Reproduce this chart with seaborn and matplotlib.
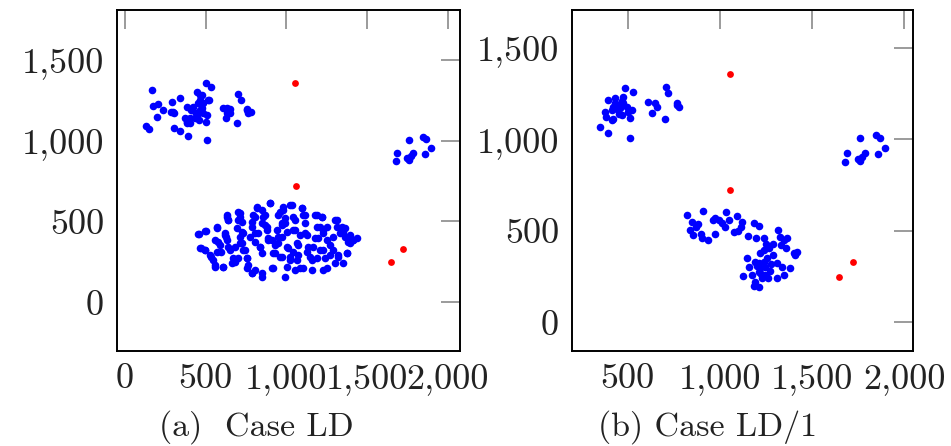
import pandas as pd
import matplotlib
matplotlib.use('Agg')
import matplotlib.pyplot as plt
import seaborn as sns
from matplotlib.ticker import FuncFormatter

# outliers (red), same in both cases
red_x = [1054, 1057, 1647, 1722]
red_y = [1356, 722, 248, 330]

# small cluster on the right, same in both cases
right_x = [1681, 1689, 1763, 1846, 1867, 1896, 1860, 1771, 1788, 1763, 1751]
right_y = [875, 923, 1005, 1026, 1009, 954, 918, 906, 923, 881, 892]

# (a) Case LD - upper left cluster
a_top_x = [165, 130, 151, 176, 207, 196, 234, 289, 283, 304, 341, 304, 341, 389, 372,
           382, 403, 407, 424, 444, 465, 455, 440, 434, 465, 475, 486, 502, 531, 523,
           511, 502, 461, 486, 511, 610, 630, 651, 626, 703, 717, 697, 754, 779, 765,
           300, 383, 414, 445, 465, 476, 517, 403, 383, 631, 651, 755]
a_top_y = [1315, 1094, 1071, 1218, 1228, 1145, 1191, 1242, 1176, 1170, 1267, 1077, 1063, 1032, 1139,
           1118, 1108, 1191, 1211, 1300, 1284, 1232, 1170, 1139, 1191, 1201, 1170, 1360, 1331, 1253,
           1160, 1118, 1129, 1232, 1005, 1201, 1170, 1195, 1139, 1288, 1253, 1108, 1195, 1180, 1170,
           1181, 1212, 1191, 1160, 1253, 1284, 1253, 1139, 1108, 1201, 1170, 1191]

# (a) Case LD - big lower cluster
a_low_x = [459, 500, 471, 496, 533, 558, 568, 579, 568, 595, 620, 624, 641, 630, 641,
           682, 692, 703, 713, 713, 723, 734, 744, 754, 754, 785, 796, 806, 806, 816,
           847, 847, 837, 847, 868, 878, 885, 899, 909, 920, 930, 940, 951, 971, 971,
           951, 806, 785, 661, 610, 703,
           982, 1023, 992, 971, 1044, 1085, 1095, 1116, 1054, 1002, 1044, 1064, 1002, 992,
           1054, 1106, 1126, 1168, 1188, 1219, 1209, 1230, 1250, 1271, 1292, 1312, 1343, 1354,
           1364, 1395, 1416, 1302, 1230, 1188, 1157, 1230, 1250, 1323, 1374, 1178, 1116, 1075,
           1023, 961, 1437,
           455, 496, 465, 496, 527, 548, 558, 610, 568, 558, 589, 620, 630, 630, 641,
           651, 672, 682, 703, 713, 723, 723, 713, 734, 754, 765, 785, 775, 785, 806,
           816, 827, 837, 847, 847, 858, 868, 878, 889, 899, 909, 920, 930, 951, 961,
           971, 982, 992, 1002, 1013, 1023, 1033, 1044, 1054, 1064, 1075, 1085, 1095, 1106,
           1116, 1126, 1137, 1147, 1157, 1178, 1188, 1199, 1209, 1219, 1230, 1240, 1250, 1271,
           1292, 1302, 1312, 1323, 1333, 1354, 1364, 1374, 1385, 1395, 1416]
a_low_y = [423, 443, 334, 323, 282, 231, 468, 375, 313, 313, 427, 406, 340, 540, 509,
           344, 458, 509, 551, 406, 365, 427, 324, 272, 210, 499, 540, 427, 375, 592,
           571, 489, 344, 179, 540, 468, 396, 612, 385, 210, 303, 447, 540, 489, 282,
           365, 200, 179, 241, 220, 272,
           571, 602, 489, 406, 447, 416, 581, 540, 509, 344, 313, 262, 220, 158,
           200, 210, 313, 344, 540, 530, 468, 427, 385, 293, 323, 509, 468, 437,
           406, 365, 385, 241, 200, 272, 262, 323, 468, 282, 303, 396, 427, 354,
           282, 282, 396,
           423, 441, 334, 324, 293, 262, 220, 220, 458, 386, 355, 417, 530, 386, 509,
           324, 272, 251, 561, 530, 499, 437, 365, 324, 272, 231, 179, 406, 468, 530,
           582, 427, 344, 303, 159, 530, 478, 447, 386, 613, 210, 303, 355, 406, 561,
           478, 592, 520, 437, 334, 262, 602, 530, 447, 365, 293, 210, 582, 540,
           489, 416, 344, 282, 200, 540, 468, 396, 324, 530, 447, 272, 210, 355,
           406, 509, 468, 293, 427, 241, 458, 303, 375, 416, 386]

# (b) Case LD/1 - upper left cluster
b_top_x = [349, 395, 512, 376, 382, 413, 395, 431, 422, 440, 458, 476, 485, 530, 467,
           512, 494, 521, 413, 449, 476, 612, 648, 630, 657, 708, 720, 702, 766, 780, 769,
           430, 450, 500, 420, 470]
b_top_y = [1065, 1032, 1005, 1151, 1123, 1105, 1214, 1224, 1178, 1187, 1169, 1233, 1278, 1256, 1132,
           1118, 1178, 1160, 1160, 1160, 1196, 1205, 1196, 1142, 1178, 1287, 1251, 1111, 1196, 1178, 1187,
           1200, 1140, 1150, 1110, 1210]

# (b) Case LD/1 - lower band
b_low_x = [907, 902, 938, 974, 974, 993, 1011, 1034, 1029, 1074, 1092, 1119, 1114, 1183, 1215,
           1197, 1237, 1251, 1264, 1237, 1219, 1313, 1327, 1346, 1367, 1360, 1400, 1418, 1409,
           1146, 1192, 1210, 1219, 1246, 1255, 1291, 1309, 1336, 1378, 1346, 1309, 1246, 1228,
           1192, 1174, 1128, 1183, 1215, 1210, 820, 848, 839, 853, 870,
           1160, 1200, 1240, 1270, 1225, 1260, 1280, 1150, 1290, 1330, 880, 900, 960, 1050, 1100]
b_low_y = [609, 459, 450, 481, 572, 559, 541, 601, 523, 496, 583, 550, 523, 541, 528,
           463, 463, 426, 408, 396, 377, 505, 468, 450, 459, 405, 377, 386, 368,
           350, 332, 323, 295, 304, 350, 368, 323, 304, 295, 259, 241, 259, 241,
           223, 259, 255, 201, 195, 277, 587, 550, 505, 477, 520,
           300, 310, 330, 280, 265, 240, 320, 470, 430, 420, 540, 480, 560, 560, 500]

sns.set_style('white')
plt.rcParams['font.family'] = ['cmr10', 'DejaVu Serif']
plt.rcParams['axes.formatter.use_mathtext'] = True

fig = plt.figure(figsize=(9.51, 4.46), dpi=100)
ax_a = fig.add_axes([0.1227, 0.2137, 0.361, 0.764])
ax_b = fig.add_axes([0.6012, 0.2137, 0.3586, 0.764])

def draw(ax, top_x, top_y, low_x, low_y):
    blue = pd.DataFrame({'x': top_x + low_x + right_x, 'y': top_y + low_y + right_y})
    red = pd.DataFrame({'x': red_x, 'y': red_y})
    sns.scatterplot(data=blue, x='x', y='y', color='#0000ff', s=30, linewidth=0, ax=ax)
    sns.scatterplot(data=red, x='x', y='y', color='#ff0000', s=24, linewidth=0, ax=ax)
    ax.set_xlabel('')
    ax.set_ylabel('')
    ax.tick_params(direction='in', length=13.5, width=1.1, color='#808080',
                   top=True, right=True, labelsize=26, pad=9, labelcolor='#222222')
    fmt = FuncFormatter(lambda v, p: '{:,.0f}'.format(v))
    ax.xaxis.set_major_formatter(fmt)
    ax.yaxis.set_major_formatter(fmt)
    for s in ax.spines.values():
        s.set_linewidth(1.4)
        s.set_color('black')

draw(ax_a, a_top_x, a_top_y, a_low_x, a_low_y)
ax_a.set_xlim(-52, 2077)
ax_a.set_ylim(-300, 1810)
ax_a.set_xticks([0, 500, 1000, 1500, 2000])
ax_a.set_yticks([0, 500, 1000, 1500])

draw(ax_b, b_top_x, b_top_y, b_low_x, b_low_y)
ax_b.set_xlim(196, 2047)
ax_b.set_ylim(-155, 1707)
ax_b.set_xticks([500, 1000, 1500, 2000])
ax_b.set_yticks([0, 500, 1000, 1500])

fig.text(256 / 951, 1 - 427 / 446, '(a)  Case LD', ha='center', va='center',
         fontsize=24.5, color='#222222')
fig.text(708 / 951, 1 - 427 / 446, '(b) Case LD/1', ha='center', va='center',
         fontsize=24.5, color='#222222')

fig.savefig('out.png', dpi=100)
